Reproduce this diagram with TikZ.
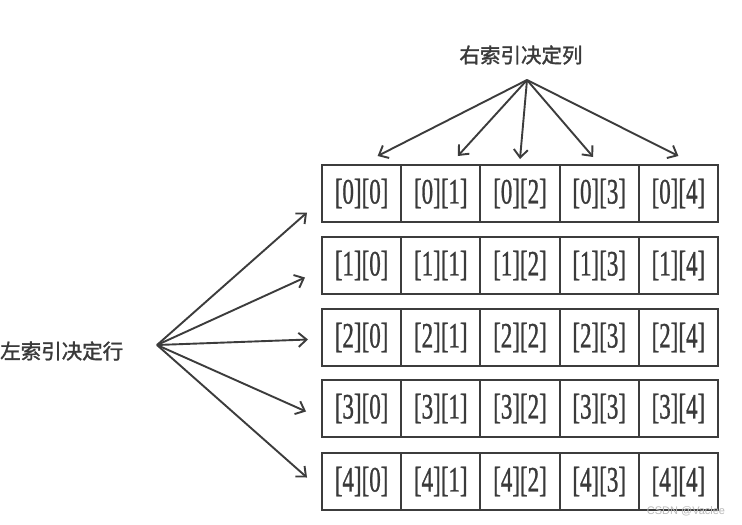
\documentclass[tikz,border=0pt]{standalone}
\usepackage{fontspec}
\setmainfont{Liberation Serif}
\newfontfamily\cellfont[FakeBold=1.2]{Liberation Serif}
\newfontfamily\cjk[FakeBold=1.6]{Noto Sans CJK SC}
\newfontfamily\wmfont{Liberation Sans}
\usetikzlibrary{arrows.meta,calc}
\definecolor{linec}{HTML}{3C3C3C}
\definecolor{txtc}{HTML}{3A3A3A}
\tikzset{
  cell/.style={draw=linec, line width=2pt, minimum width=79.2pt, minimum height=57pt,
    inner sep=0pt, text=txtc, font=\cellfont\fontsize{23}{23}\selectfont},
  lbl/.style={text=txtc, font=\cjk\fontsize{20.5}{22}\selectfont, inner sep=0pt},
  arr/.style={draw=linec, line width=1.9pt, -{Straight Barb[length=8pt,width=14pt,line width=1.9pt]}},
}
\newcommand{\cellt}[1]{\scalebox{1}[1.55]{#1}}
\begin{document}
\begin{tikzpicture}[x=1pt,y=-1pt]
\useasboundingbox (0,0) rectangle (742,525);
\fill[white] (0,0) rectangle (742,525);
% cells
\foreach \i/\top in {0/165,1/237,2/309,3/380,4/453}{
  \foreach \j in {0,...,4}{
    \node[cell] (c-\i-\j) at ({322+79.2*(\j+0.5)},{\top+28.5}) {\cellt{[\i][\j]}};
  }
}
% labels
\node[lbl] (tl) at (521,55) {右索引决定列};
\node[lbl, anchor=west] (ll) at (0,351) {左索引决定行};
\coordinate (ts) at (527,80);
\coordinate (ls) at (157,345);
% top arrow tips
\coordinate (t0) at ([xshift=16pt,yshift=8pt]c-0-0.north);
\coordinate (t1) at ([xshift=17pt,yshift=8pt]c-0-1.north);
\coordinate (t2) at ([xshift=0pt,yshift=5pt]c-0-2.north);
\coordinate (t3) at ([xshift=-6pt,yshift=7pt]c-0-3.north);
\coordinate (t4) at ([xshift=0pt,yshift=8pt]c-0-4.north);
\foreach \k in {0,...,4}{\draw[arr] (ts) -- (t\k);}
% left arrow tips
\coordinate (l0) at ([xshift=-14pt,yshift=-19pt]c-0-0.west);
\coordinate (l1) at ([xshift=-16pt,yshift=-12pt]c-1-0.west);
\coordinate (l2) at ([xshift=-13pt,yshift=-2pt]c-2-0.west);
\coordinate (l3) at ([xshift=-15pt,yshift=-3pt]c-3-0.west);
\coordinate (l4) at ([xshift=-14pt,yshift=4pt]c-4-0.west);
\foreach \k in {0,...,4}{\draw[arr] (ls) -- (l\k);}
% watermark
\node[text=gray!55, font=\wmfont\fontsize{11}{11}\selectfont, inner sep=0pt] (wm) at (686,511) {CSDN @Vaclee};
\end{tikzpicture}
\end{document}
